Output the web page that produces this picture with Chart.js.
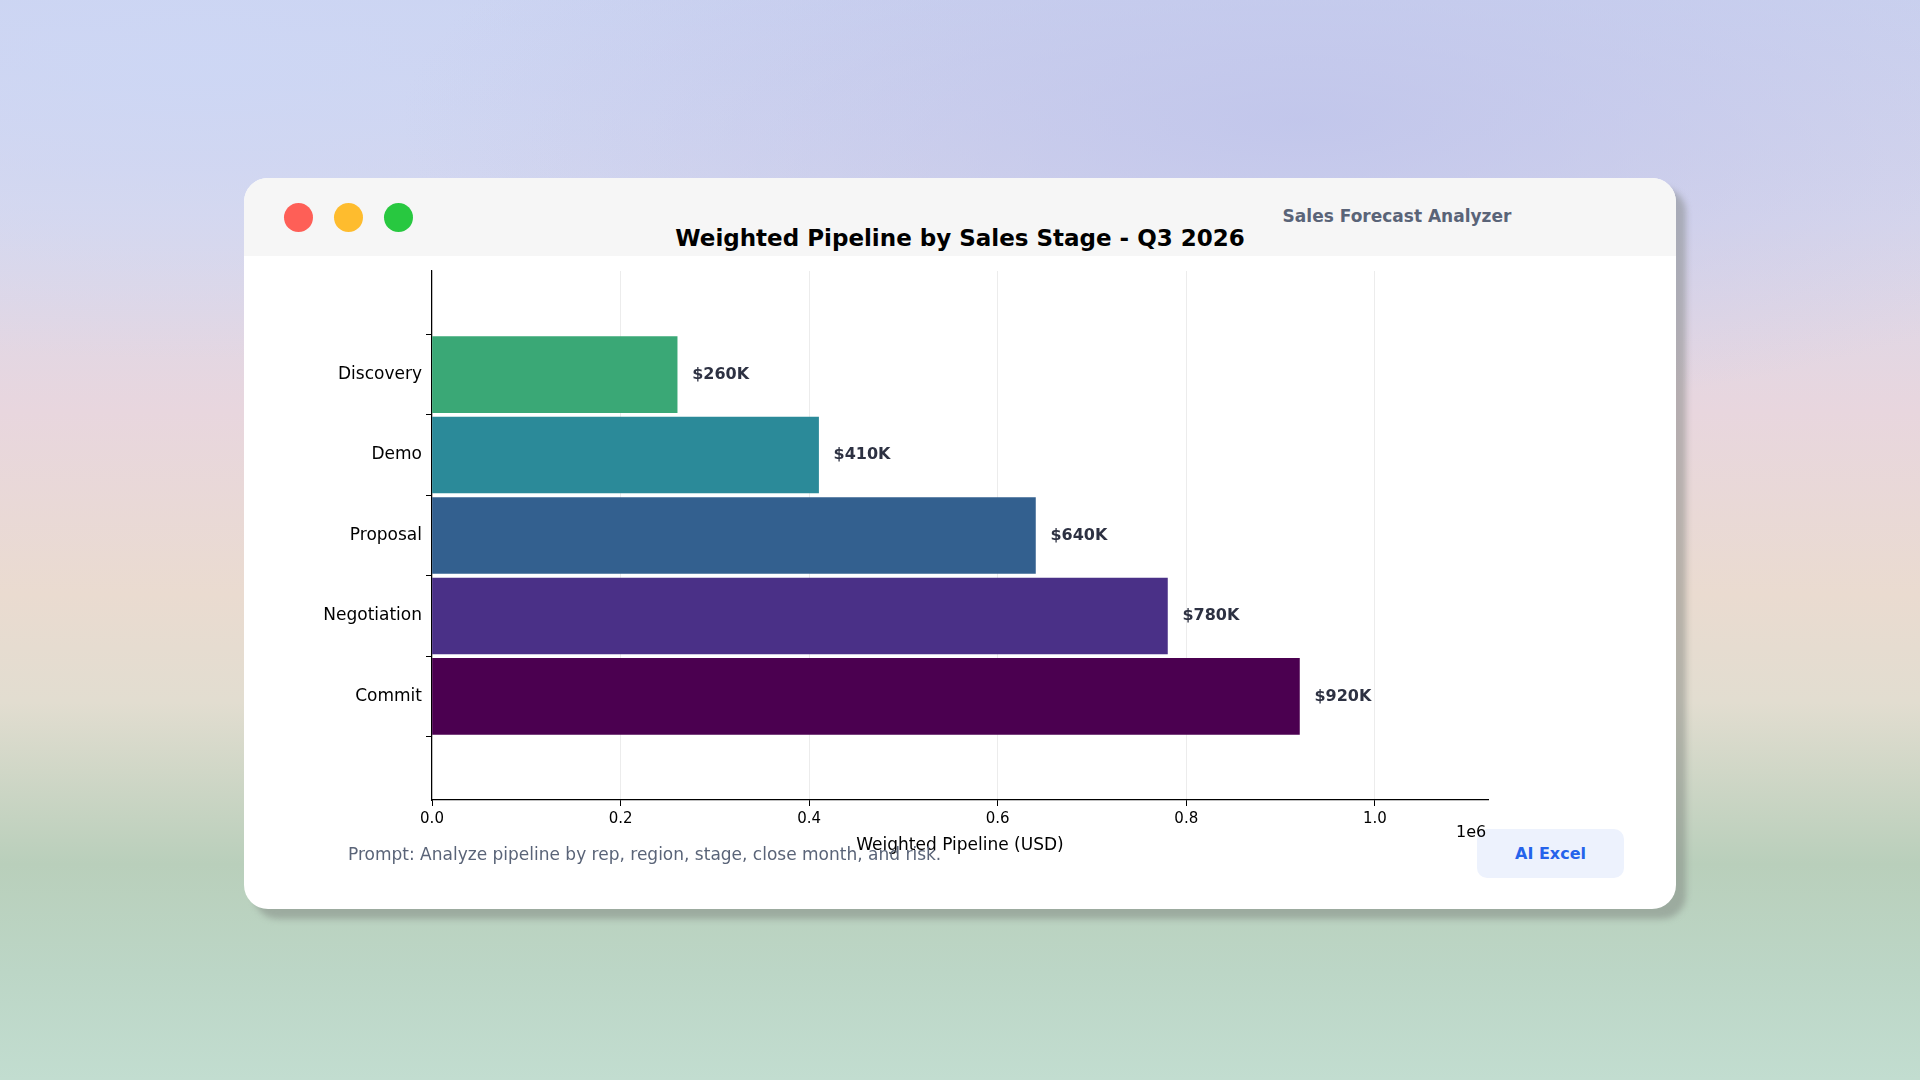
<!DOCTYPE html>
<html><head><meta charset="utf-8">
<script src="https://cdn.jsdelivr.net/npm/chart.js@4.4.1/dist/chart.umd.min.js"></script>
<style>
html,body{margin:0;width:1920px;height:1080px;overflow:hidden;font-family:"DejaVu Sans",sans-serif}
#bg{position:absolute;inset:0;background:
radial-gradient(ellipse 900px 300px at 1300px 120px, rgba(190,195,235,0.8), transparent),
radial-gradient(ellipse 800px 300px at 200px 60px, rgba(205,215,245,0.9), transparent),
linear-gradient(180deg,#cbd2ef 0%,#d9d8ec 20%,#e8d6de 38%,#eadbd0 55%,#e2ddd0 65%,#b9cfbb 80%,#bcd6c6 90%,#c2ddd0 100%);}
#shadow{position:absolute;left:254px;top:188px;width:1432px;height:731px;border-radius:24px;background:rgba(120,125,120,0.45);filter:blur(3px)}
#card{position:absolute;left:244px;top:178px;width:1432px;height:731px;border-radius:24px;background:#fff;overflow:hidden}
#hdr{position:absolute;left:0;top:0;width:100%;height:78px;background:#f6f6f6}
.dot{position:absolute;top:25px;width:29px;height:29px;border-radius:50%}
#app{position:absolute;left:1153px;top:28px;width:0;white-space:nowrap;font-weight:bold;font-size:17px;color:#5a6478}
#app span{position:absolute;transform:translateX(-50%)}
#title{position:absolute;left:0;width:1432px;top:47px;text-align:center;font-weight:bold;font-size:23px;color:#000}
#wrap{position:absolute;left:0;top:78px;width:1432px;height:600px}
#e6{position:absolute;left:1212px;top:644px;font-size:16px;color:#000;z-index:3}
#prompt{position:absolute;left:104px;top:666px;font-size:17px;color:#5a6478}
#btn{position:absolute;left:1233px;top:651px;width:147px;height:49px;border-radius:10px;background:#edf2fd;color:#2563eb;font-weight:bold;font-size:16px;text-align:center;line-height:49px}
</style></head><body>
<div id="bg"></div><div id="shadow"></div>
<div id="card">
<div id="hdr"></div>
<div class="dot" style="left:40px;background:#fe5f57"></div>
<div class="dot" style="left:90px;background:#febc2e"></div>
<div class="dot" style="left:140px;background:#28c840"></div>
<div id="app"><span>Sales Forecast Analyzer</span></div>
<div id="title">Weighted Pipeline by Sales Stage - Q3 2026</div>
<div id="wrap"><canvas id="c"></canvas></div>
<div id="btn">AI Excel</div>
<div id="e6">1e6</div>
<div id="prompt">Prompt: Analyze pipeline by rep, region, stage, close month, and risk.</div>
</div>
<script>
const stages=["Discovery","Demo","Proposal","Negotiation","Commit"];
const pipeline=[260000,410000,640000,780000,920000];
const valueLabels=["$260K","$410K","$640K","$780K","$920K"];
const tickValues=[0,0.2,0.4,0.6,0.8,1.0];
const colors=["#3aa876","#2b8a99","#33608f","#4a3087","#4b0050"];
const labelPlugin={id:'vl',afterDatasetsDraw(ch){const ctx=ch.ctx;const m=ch.getDatasetMeta(0);
ctx.save();ctx.font='bold 16px "DejaVu Sans"';ctx.fillStyle='#2d3142';ctx.textBaseline='middle';
m.data.forEach((b,i)=>ctx.fillText(valueLabels[i],b.x+15,b.y));ctx.restore();}};
new Chart(document.getElementById('c'),{type:'bar',
data:{datasets:[{data:stages.map((s,i)=>({x:pipeline[i],y:i})),backgroundColor:colors,barThickness:76}]},
options:{indexAxis:'y',responsive:true,maintainAspectRatio:false,animation:false,
layout:{padding:{top:15,right:188,left:0,bottom:0}},
plugins:{legend:{display:false},tooltip:{enabled:false}},
scales:{
y:{type:'linear',reverse:true,min:-0.63,max:4.63,afterFit(s){s.width=188;},
afterBuildTicks(s){s.ticks=stages.map((_,i)=>({value:i}));},
border:{color:'#000',width:1.2},grid:{drawOnChartArea:false,tickLength:6,tickColor:'#000'},
ticks:{color:'#000',font:{size:17,family:'"DejaVu Sans"'},padding:4,callback:v=>stages[v]}},
x:{type:'linear',min:0,max:1120000,afterFit(s){s.height=56;},border:{color:'#000',width:1.2},
afterBuildTicks(s){s.ticks=tickValues.map(v=>({value:v*1e6}));},
grid:{color:'#ececec',tickLength:6,tickColor:'#000'},
ticks:{color:'#000',font:{size:15,family:'"DejaVu Sans"'},padding:4,callback:v=>(v/1e6).toFixed(1)},
title:{display:true,text:'Weighted Pipeline (USD)',color:'#000',font:{size:17,family:'"DejaVu Sans"'},padding:{top:0,bottom:0}}}}},
plugins:[labelPlugin]});
</script></body></html>
